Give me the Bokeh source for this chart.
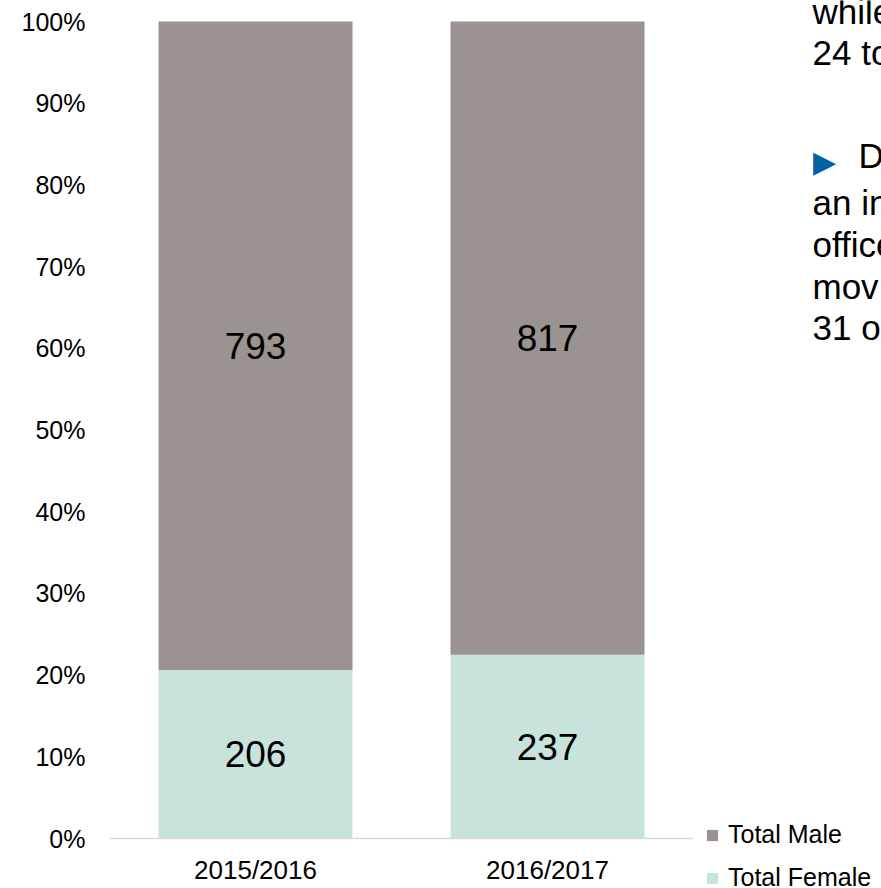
from bokeh.plotting import figure
from bokeh.models import (ColumnDataSource, Range1d, NumeralTickFormatter,
                          FixedTicker, Legend, LegendItem, Label)
from bokeh.core.properties import value
from bokeh.embed import file_html
from bokeh.resources import INLINE

# ---- data ----
years = ["2015/2016", "2016/2017"]
female = [206, 237]
male = [793, 817]
series = ["Total Female", "Total Male"]
colors = ["#C7E3DB", "#9B9391"]
y_ticks = [0.0, 0.1, 0.2, 0.3, 0.4, 0.5, 0.6, 0.7, 0.8, 0.9, 1.0]
side_text = ["while", "24 to", "D", "an in", "office", "mov", "31 o"]

totals = [f + m for f, m in zip(female, male)]
female_share = [f / t for f, t in zip(female, totals)]
male_share = [m / t for m, t in zip(male, totals)]
centers = [i + 0.5 for i in range(len(years))]

src = ColumnDataSource(dict(
    x=centers,
    female=female_share,
    male=male_share,
    female_mid=[s / 2 for s in female_share],
    male_mid=[f + m / 2 for f, m in zip(female_share, male_share)],
    female_txt=[str(v) for v in female],
    male_txt=[str(v) for v in male],
))

FONT = "Liberation Sans"
W, H = 881, 888
FL = 109            # frame left (px)
CAT_PX = 292        # px per category slot
Y0_PX, Y1_PX = 838, 21   # pixel rows of 0% and 100%
PX_PER_UNIT = Y0_PX - Y1_PX

x_end = (W - FL) / CAT_PX
y_start = -(H - Y0_PX) / PX_PER_UNIT
y_end = 1 + Y1_PX / PX_PER_UNIT

p = figure(x_range=Range1d(0, x_end), y_range=Range1d(y_start, y_end),
           width=W, height=H, toolbar_location=None, output_backend="svg",
           min_border_left=FL, min_border_right=0,
           min_border_top=0, min_border_bottom=0)
p.outline_line_color = None
p.xgrid.visible = False
p.ygrid.visible = False

rs = p.vbar_stack(["female", "male"], x="x", width=194 / CAT_PX, source=src,
                  color=colors, line_color=None)

# data labels
for col, txt in (("female_mid", "female_txt"), ("male_mid", "male_txt")):
    p.text(x="x", y=col, text=txt, source=src, text_align="center",
           text_baseline="middle", text_font=value(FONT), text_font_size="37px",
           text_color="#000000")

# axes
p.yaxis.ticker = FixedTicker(ticks=y_ticks)
p.yaxis.formatter = NumeralTickFormatter(format="0%")
p.yaxis.axis_line_color = None
p.yaxis.major_tick_line_color = None
p.yaxis.major_tick_out = 0
p.yaxis.minor_tick_line_color = None
p.yaxis.major_label_standoff = 24
p.yaxis.major_label_text_font = FONT
p.yaxis.major_label_text_font_size = "25px"
p.yaxis.major_label_text_color = "#000000"

p.xaxis.fixed_location = 0
p.xaxis.bounds = (0, len(years))
p.xaxis.ticker = FixedTicker(ticks=centers)
p.xaxis.major_label_overrides = {c: y for c, y in zip(centers, years)}
p.xaxis.axis_line_color = "#D9D9D9"
p.xaxis.axis_line_width = 1.5
p.xaxis.major_tick_line_color = None
p.xaxis.major_tick_out = 0
p.xaxis.minor_tick_line_color = None
p.xaxis.major_label_standoff = 16
p.xaxis.major_label_text_font = FONT
p.xaxis.major_label_text_font_size = "26px"
p.xaxis.major_label_text_color = "#000000"

# legend
legend = Legend(items=[LegendItem(label=series[1], renderers=[rs[1]]),
                       LegendItem(label=series[0], renderers=[rs[0]])],
                location=(596, -4), orientation="vertical",
                glyph_width=14, glyph_height=14, label_standoff=9,
                label_text_font=FONT, label_text_font_size="25px",
                label_text_color="#000000", spacing=14, padding=0, margin=0,
                border_line_color=None, background_fill_alpha=0)
p.add_layout(legend, "center")

# side text (cropped commentary on the right)
def dx(px):
    return (px - FL) / CAT_PX

def dy(py):
    return (Y0_PX - py) / PX_PER_UNIT

baselines = [11, 52, 155, 202, 244, 286, 327]
lefts = [812, 812, 858, 812, 812, 812, 812]
for t, bx, by in zip(side_text, lefts, baselines):
    p.add_layout(Label(x=dx(bx), y=dy(by), text=t, text_font=FONT,
                       text_font_size="35px", text_color="#000000",
                       text_baseline="alphabetic", text_align="left"))
p.add_layout(Label(x=dx(824), y=dy(161), text="\u25B6", text_font="DejaVu Sans",
                   text_font_size="30px", text_color="#0063A6",
                   text_baseline="middle", text_align="center"))

open("out.html", "w").write(file_html(p, INLINE))
